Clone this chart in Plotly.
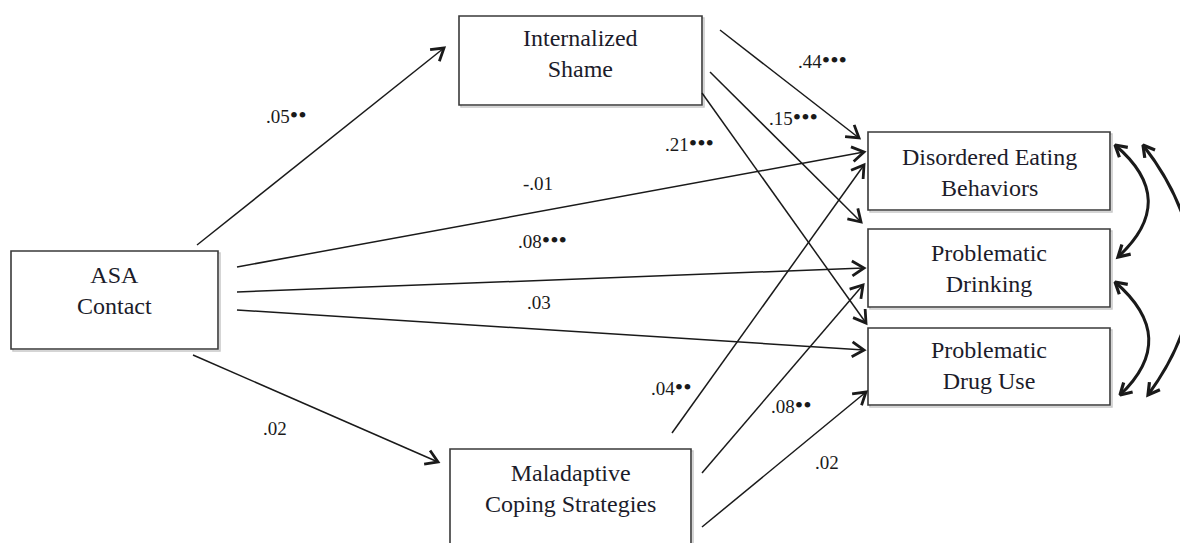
import math
import plotly.graph_objects as go

# ---- model content -------------------------------------------------------
node_names = ["ASA", "SHAME", "COPING", "EAT", "DRINK", "DRUG"]
node_text = [
    "ASA<br>Contact",
    "Internalized<br>Shame",
    "Maladaptive<br>Coping Strategies",
    "Disordered Eating<br>Behaviors",
    "Problematic<br>Drinking",
    "Problematic<br>Drug Use",
]

# directed paths: source, target, standardized coefficient, number of significance marks
path_from = ["ASA", "ASA", "ASA", "ASA", "ASA", "SHAME", "SHAME", "SHAME", "COPING", "COPING", "COPING"]
path_to = ["SHAME", "EAT", "DRINK", "DRUG", "COPING", "EAT", "DRINK", "DRUG", "EAT", "DRINK", "DRUG"]
path_coef = [".05", "-.01", ".08", ".03", ".02", ".44", ".15", ".21", ".04", ".08", ".02"]
path_sig = [2, 0, 3, 0, 0, 3, 3, 3, 2, 2, 0]

# residual covariances between outcomes (double-headed arcs)
cov_pairs = [("EAT", "DRINK"), ("DRINK", "DRUG"), ("EAT", "DRUG")]

# ---- layout geometry (pixel space, y grows downward) ---------------------
W, H = 1180, 543
box = {
    "ASA": (11, 251, 218, 349),
    "SHAME": (459, 16, 702, 105),
    "COPING": (450, 449, 691, 570),
    "EAT": (868, 132, 1110, 210),
    "DRINK": (868, 229, 1110, 307),
    "DRUG": (868, 328, 1110, 405),
}
text_y = {"ASA": 290, "SHAME": 53, "COPING": 488, "EAT": 172, "DRINK": 268, "DRUG": 365}

# start point, arrow tip, label anchor (left, middle)
path_geom = [
    ((197, 245), (444, 48), (264, 115)),
    ((237, 267), (864, 152), (521, 183)),
    ((237, 292), (864, 268), (516, 240)),
    ((237, 310), (864, 350), (525, 302)),
    ((193, 355), (438, 462), (261, 428)),
    ((720, 30), (859, 138), (796, 60)),
    ((710, 72), (861, 222), (767, 117)),
    ((702, 93), (866, 323), (663, 143)),
    ((672, 433), (864, 165), (649, 387)),
    ((702, 473), (863, 285), (769, 405)),
    ((702, 527), (866, 392), (813, 462)),
]
# arc: start, control, end
cov_geom = [
    ((1115, 145), (1180, 200), (1118, 257)),
    ((1115, 282), (1180, 338), (1120, 395)),
    ((1143, 145), (1240, 270), (1148, 395)),
]

INK = "#1a1a1a"
FONT = "Liberation Serif, Times New Roman, serif"


def head(tip, direction, length=14, spread=32):
    dx, dy = direction
    n = math.hypot(dx, dy)
    dx, dy = dx / n, dy / n
    pts = []
    for sgn in (1, -1):
        a = math.radians(spread) * sgn
        bx = dx * math.cos(a) - dy * math.sin(a)
        by = dx * math.sin(a) + dy * math.cos(a)
        pts.append((tip[0] - length * bx, tip[1] - length * by))
    return [pts[0][0], tip[0], pts[1][0], None], [pts[0][1], tip[1], pts[1][1], None]


fig = go.Figure()
shapes = []
annotations = []

# boxes with a faint drop shadow
for name, label in zip(node_names, node_text):
    x0, y0, x1, y1 = box[name]
    shapes.append(dict(type="rect", xref="x", yref="y", x0=x0 + 2, y0=y0 + 2, x1=x1 + 2, y1=y1 + 2,
                       line=dict(color="#c8c8c8", width=1.5), layer="below"))
    shapes.append(dict(type="rect", xref="x", yref="y", x0=x0, y0=y0, x1=x1, y1=y1,
                       line=dict(color="#3a3a3a", width=1.6), fillcolor="white", layer="below"))
    annotations.append(dict(x=(x0 + x1) / 2, y=text_y[name], xref="x", yref="y", text=label,
                            showarrow=False, align="center",
                            font=dict(family=FONT, size=24, color="#1c1c2a")))

# straight paths
sx, sy, hx, hy = [], [], [], []
for (p0, p1, lab), coef, sig in zip(path_geom, path_coef, path_sig):
    sx += [p0[0], p1[0], None]
    sy += [p0[1], p1[1], None]
    cx, cy = head(p1, (p1[0] - p0[0], p1[1] - p0[1]))
    hx += cx
    hy += cy
    stars = "•" * sig
    txt = coef + (f"<span style='font-size:24px'>{stars}</span>" if stars else "")
    annotations.append(dict(x=lab[0], y=lab[1], xref="x", yref="y", text=txt, showarrow=False,
                            xanchor="left", yanchor="middle",
                            font=dict(family=FONT, size=19, color=INK)))

fig.add_trace(go.Scatter(x=sx, y=sy, mode="lines", line=dict(color=INK, width=1.5),
                         hoverinfo="skip", showlegend=False))
fig.add_trace(go.Scatter(x=hx, y=hy, mode="lines", line=dict(color=INK, width=2.8),
                         hoverinfo="skip", showlegend=False))

# covariance arcs, arrowheads at both ends
ax, ay = [], []
for (p0, c, p1) in cov_geom:
    shapes.append(dict(type="path", xref="x", yref="y",
                       path=f"M {p0[0]},{p0[1]} Q {c[0]},{c[1]} {p1[0]},{p1[1]}",
                       line=dict(color=INK, width=3)))
    for tip in (p0, p1):
        hx2, hy2 = head(tip, (tip[0] - c[0], tip[1] - c[1]), length=13, spread=30)
        ax += hx2
        ay += hy2
fig.add_trace(go.Scatter(x=ax, y=ay, mode="lines", line=dict(color=INK, width=3.2),
                         hoverinfo="skip", showlegend=False))

fig.update_layout(
    width=W, height=H,
    margin=dict(l=0, r=0, t=0, b=0),
    paper_bgcolor="white", plot_bgcolor="white",
    xaxis=dict(range=[0, W], visible=False, fixedrange=True),
    yaxis=dict(range=[H, 0], visible=False, fixedrange=True),
    shapes=shapes, annotations=annotations,
)

fig.write_html("out.html")
